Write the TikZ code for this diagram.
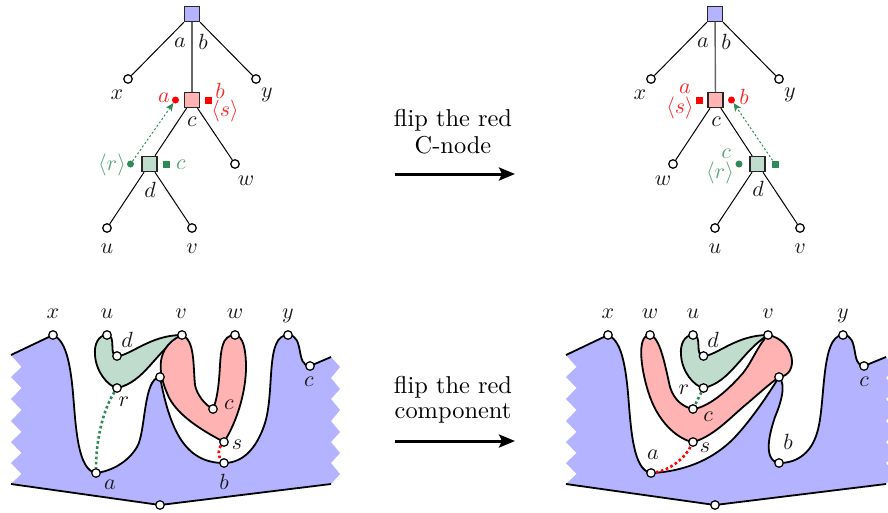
\documentclass[tikz,border=0pt]{standalone}
\usetikzlibrary{backgrounds,arrows.meta}
\definecolor{regblue}{HTML}{B3B3FF}
\definecolor{regred}{HTML}{FFB3B3}
\definecolor{reggreen}{HTML}{BFDCCC}
\definecolor{dkgreen}{HTML}{2E8B57}
\definecolor{lbgreen}{HTML}{58A67C}
\definecolor{lbred}{HTML}{FF2A2A}
\tikzset{
  lab/.style={inner sep=0pt,scale=2.2,text=black!90},
  caplab/.style={inner sep=0pt,scale=2.44,text=black},
  rlab/.style={lab,text=lbred},
  glab/.style={lab,text=lbgreen},
  leaf/.style={circle,draw=black,fill=white,line width=1.25pt,minimum size=8.5pt,inner sep=0pt},
  sq/.style={rectangle,draw=black!85,line width=1.4pt,minimum size=15pt,inner sep=0pt},
  edge/.style={draw=black,line width=1pt},
  outl/.style={draw=black,line width=1.8pt,line join=round},
  rdot/.style={circle,fill=red,minimum size=7pt,inner sep=0pt},
  rsq/.style={rectangle,fill=red,minimum size=7pt,inner sep=0pt},
  gdot/.style={circle,fill=dkgreen,minimum size=7pt,inner sep=0pt},
  gsq/.style={rectangle,fill=dkgreen,minimum size=7pt,inner sep=0pt},
  gdots/.style={draw=dkgreen,line width=2.6pt,dash pattern=on 2.6pt off 2.6pt},
  rdots/.style={draw=red,line width=2.6pt,dash pattern=on 2.6pt off 2.6pt},
  garr/.style={draw=dkgreen,line width=1pt,dash pattern=on 2pt off 2.2pt,-{Stealth[length=8pt,width=7pt,inset=2pt]}},
  bigarr/.style={draw=black,line width=3pt,-{Stealth[length=16pt,width=13pt,inset=3pt]}},
}
\begin{document}
\begin{tikzpicture}[x=1pt,y=-1pt]
\clip (0,0) rectangle (888,512);
\useasboundingbox (0,0) rectangle (888,512);
% ---------- top left tree
\node[sq,fill=regblue] (tr) at (192,14) {};
\node[leaf] (tx) at (128,79) {};
\node[leaf] (ty) at (256,79) {};
\node[sq,fill=regred] (tc) at (192,100) {};
\node[sq,fill=reggreen] (td) at (149.5,164) {};
\node[leaf] (tw) at (235,164) {};
\node[leaf] (tu) at (107,228) {};
\node[leaf] (tv) at (192,228) {};
\node[rdot] (ta) at (175.5,100) {};
\node[rsq] (tb) at (208.5,100) {};
\node[gdot] (tp) at (130.5,164) {};
\node[gsq] (tq) at (166.5,164) {};
\draw[edge] (tr) -- (tx);
\draw[edge] (tr) -- (ty);
\draw[draw=black!60,line width=1.4pt] (tr) -- (tc);
\draw[edge] (tc) -- (td);
\draw[edge] (tc) -- (tw);
\draw[edge] (td) -- (tu);
\draw[edge] (td) -- (tv);
\draw[garr] (tp) -- (ta);
\node[lab] at (180,43) {$a$};
\node[lab] at (203,42) {$b$};
\node[lab] at (117,95) {$x$};
\node[lab] at (267,95) {$y$};
\node[rlab] at (164,98) {$a$};
\node[rlab] at (220,91) {$b$};
\node[rlab] at (225,111) {$\langle s\rangle$};
\node[lab] at (192,122) {$c$};
\node[glab] at (112,165) {$\langle r\rangle$};
\node[glab] at (181,165) {$c$};
\node[lab] at (150,190) {$d$};
\node[lab] at (246,181) {$w$};
\node[lab] at (107,249) {$u$};
\node[lab] at (192,249) {$v$};
% ---------- top right tree
\node[sq,fill=regblue] (ur) at (715,14) {};
\node[leaf] (ux) at (651,79) {};
\node[leaf] (uy) at (779,79) {};
\node[sq,fill=regred] (uc) at (715.5,100) {};
\node[sq,fill=reggreen] (ud) at (757.5,164) {};
\node[leaf] (uw) at (673,164) {};
\node[leaf] (uu) at (715,228) {};
\node[leaf] (uv) at (800,228) {};
\node[rsq] (ua) at (699,100) {};
\node[rdot] (ub) at (731.5,100) {};
\node[gdot] (up) at (739,164) {};
\node[gsq] (uq) at (775,164) {};
\draw[edge] (ur) -- (ux);
\draw[edge] (ur) -- (uy);
\draw[draw=black!60,line width=1.4pt] (ur) -- (uc);
\draw[edge] (uc) -- (ud);
\draw[edge] (uc) -- (uw);
\draw[edge] (ud) -- (uu);
\draw[edge] (ud) -- (uv);
\draw[garr] (uq) -- (ub);
\node[lab] at (703,43) {$a$};
\node[lab] at (726,42) {$b$};
\node[lab] at (640,95) {$x$};
\node[lab] at (790,95) {$y$};
\node[rlab] at (685,89) {$a$};
\node[rlab] at (744,97) {$b$};
\node[rlab] at (680,108) {$\langle s\rangle$};
\node[lab] at (716,122) {$c$};
\node[lab] at (663,181) {$w$};
\node[glab] at (726,154) {$c$};
\node[glab] at (720,173) {$\langle r\rangle$};
\node[lab] at (758,189) {$d$};
\node[lab] at (715,249) {$u$};
\node[lab] at (800,249) {$v$};
% ---------- middle labels and arrows
\node[caplab] at (453,120) {flip the red};
\node[caplab] at (453,145) {C-node};
\node[caplab] at (453,387) {flip the red};
\node[caplab] at (453,413) {component};
\coordinate (m1a) at (395,174); \coordinate (m1b) at (515,174);
\coordinate (m2a) at (395,441); \coordinate (m2b) at (515,441);
\draw[bigarr] (m1a) -- (m1b);
\draw[bigarr] (m2a) -- (m2b);
% ---------- bottom left drawing
\node[leaf] (x) at (53,335) {};
\node[leaf] (a) at (96,473) {};
\node[leaf] (m) at (160,377) {};
\node[leaf] (b) at (224,463) {};
\node[leaf] (y) at (288,335) {};
\node[leaf] (e) at (310,366) {};
\node[leaf] (o) at (160,505) {};
\node[leaf] (u) at (107,335) {};
\node[leaf] (d) at (117,356) {};
\node[leaf] (v) at (182,335) {};
\node[leaf] (r) at (117,388) {};
\node[leaf] (q) at (213,409) {};
\node[leaf] (w) at (235,335) {};
\node[leaf] (s) at (224,442) {};
\coordinate (l0) at (11,355); \coordinate (l1) at (11,484);
\coordinate (r0) at (331,357); \coordinate (r1) at (331,484);
\begin{pgfonlayer}{background}
\fill[regblue] (l0) -- (x.center)
  .. controls (65,340) and (70,360) .. (73,393) .. controls (76,430) and (78,470) .. (a.center)
  .. controls (112,471) and (128,462) .. (137,447) .. controls (146,432) and (143,378) .. (m.center)
  .. controls (170,430) and (185,463) .. (b.center)
  .. controls (245,463) and (258,445) .. (265,423) .. controls (275,390) and (265,335) .. (y.center)
  .. controls (305,335) and (295,366) .. (e.center)
  -- (r0) -- (340,367) -- (331,378) -- (340,389) -- (331,399) -- (340,410) -- (331,421) -- (340,432) -- (331,442) -- (340,453) -- (331,463) -- (340,474) -- (r1)
  -- (o.center) -- (l1)
  -- (21.5,474) -- (11,463) -- (21.5,453) -- (11,442) -- (21.5,432) -- (11,421) -- (21.5,410) -- (11,399) -- (21.5,388) -- (11,377) -- (21.5,367) -- cycle;
\draw[outl] (l0) -- (x.center)
  .. controls (65,340) and (70,360) .. (73,393) .. controls (76,430) and (78,470) .. (a.center)
  .. controls (112,471) and (128,462) .. (137,447) .. controls (146,432) and (143,378) .. (m.center)
  .. controls (170,430) and (185,463) .. (b.center)
  .. controls (245,463) and (258,445) .. (265,423) .. controls (275,390) and (265,335) .. (y.center)
  .. controls (305,335) and (295,366) .. (e.center) -- (r0);
\draw[outl] (l1) -- (o.center) -- (r1);
\draw[outl,fill=reggreen] (u.center) .. controls (117,335) and (108,356) .. (d.center)
  .. controls (130,356) and (150,335) .. (v.center)
  .. controls (155,352) and (145,382) .. (r.center)
  .. controls (108,386) and (96,372) .. (95,355) .. controls (94,345) and (98,335) .. (u.center) -- cycle;
\draw[outl,fill=regred] (v.center) .. controls (195,340) and (193,365) .. (195,385) .. controls (197,395) and (205,405) .. (q.center)
  .. controls (217,400) and (219,385) .. (220,365) .. controls (221,350) and (222,335) .. (w.center)
  .. controls (243,335) and (246,350) .. (246,367) .. controls (246,390) and (238,420) .. (s.center)
  .. controls (205,432) and (175,415) .. (167,393) .. controls (155,365) and (160,345) .. (v.center) -- cycle;
\draw[gdots] (r) .. controls (103,410) and (96,440) .. (a);
\draw[rdots] (s) .. controls (218,449) and (218,456) .. (b);
\end{pgfonlayer}
\node[lab] at (53,314) {$x$};
\node[lab] at (107,314) {$u$};
\node[lab] at (127,340) {$d$};
\node[lab] at (124,402) {$r$};
\node[lab] at (181,314) {$v$};
\node[lab] at (235,314) {$w$};
\node[lab] at (288,316) {$y$};
\node[lab] at (309,382) {$c$};
\node[lab] at (229,405) {$c$};
\node[lab] at (237,445) {$s$};
\node[lab] at (224,482) {$b$};
\node[lab] at (110,485) {$a$};
% ---------- bottom right drawing
\node[leaf] (X) at (608,335) {};
\node[leaf] (A) at (651,473) {};
\node[leaf] (M) at (779,377) {};
\node[leaf] (B) at (779,463) {};
\node[leaf] (Y) at (843,335) {};
\node[leaf] (E) at (864,366) {};
\node[leaf] (O) at (715,505) {};
\node[leaf] (U) at (693,335) {};
\node[leaf] (D) at (703.5,356) {};
\node[leaf] (V) at (768,335) {};
\node[leaf] (R) at (703.5,388) {};
\node[leaf] (Q) at (693,409) {};
\node[leaf] (W) at (650,335) {};
\node[leaf] (S) at (693,442) {};
\coordinate (L0) at (566,355); \coordinate (L1) at (566,484);
\coordinate (R0) at (886,357); \coordinate (R1) at (886,484);
\begin{pgfonlayer}{background}
\clip (0,0) rectangle (888,512);
\fill[regblue] (L0) -- (X.center)
  .. controls (620,340) and (625,360) .. (628,393) .. controls (631,430) and (633,470) .. (A.center)
  .. controls (675,472) and (705,465) .. (730,442) .. controls (745,428) and (765,400) .. (M.center)
  .. controls (787,385) and (780,405) .. (775,417) .. controls (770,432) and (762,460) .. (B.center)
  .. controls (800,463) and (812,450) .. (817,433) .. controls (826,405) and (820,335) .. (Y.center)
  .. controls (860,335) and (850,366) .. (E.center)
  -- (R0) -- (895,367) -- (886,378) -- (895,389) -- (886,399) -- (895,410) -- (886,421) -- (895,432) -- (886,442) -- (895,453) -- (886,463) -- (895,474) -- (R1)
  -- (O.center) -- (L1)
  -- (576.5,474) -- (566,463) -- (576.5,453) -- (566,442) -- (576.5,432) -- (566,421) -- (576.5,410) -- (566,399) -- (576.5,388) -- (566,377) -- (576.5,367) -- cycle;
\draw[outl] (L0) -- (X.center)
  .. controls (620,340) and (625,360) .. (628,393) .. controls (631,430) and (633,470) .. (A.center)
  .. controls (675,472) and (705,465) .. (730,442) .. controls (745,428) and (765,400) .. (M.center)
  .. controls (787,385) and (780,405) .. (775,417) .. controls (770,432) and (762,460) .. (B.center)
  .. controls (800,463) and (812,450) .. (817,433) .. controls (826,405) and (820,335) .. (Y.center)
  .. controls (860,335) and (850,366) .. (E.center) -- (R0);
\draw[outl] (L1) -- (O.center) -- (R1);
\draw[outl,fill=reggreen] (U.center) .. controls (703,335) and (694,356) .. (D.center)
  .. controls (716,356) and (736,335) .. (V.center)
  .. controls (741,352) and (731,382) .. (R.center)
  .. controls (694,386) and (682,372) .. (681,355) .. controls (680,345) and (684,335) .. (U.center) -- cycle;
\draw[outl,fill=regred] (W.center) .. controls (660,337) and (665,365) .. (670,387) .. controls (674,400) and (683,407) .. (Q.center)
  .. controls (710,407) and (730,388) .. (743,373) .. controls (752,362) and (758,345) .. (V.center)
  .. controls (795,340) and (800,375) .. (M.center)
  .. controls (768,385) and (755,397) .. (743,407) .. controls (728,420) and (712,437) .. (S.center)
  .. controls (680,440) and (660,425) .. (650,397) .. controls (642,375) and (635,335) .. (W.center) -- cycle;
\draw[gdots] (R) -- (Q);
\draw[rdots] (A) .. controls (670,470) and (685,458) .. (S);
\end{pgfonlayer}
\node[lab] at (608,314) {$x$};
\node[lab] at (650,314) {$w$};
\node[lab] at (693,314) {$u$};
\node[lab] at (713,340) {$d$};
\node[lab] at (684,390) {$r$};
\node[lab] at (708,417) {$c$};
\node[lab] at (705,448) {$s$};
\node[lab] at (653,455) {$a$};
\node[lab] at (768,314) {$v$};
\node[lab] at (843,316) {$y$};
\node[lab] at (788,442) {$b$};
\node[lab] at (864,382) {$c$};
\end{tikzpicture}
\end{document}
